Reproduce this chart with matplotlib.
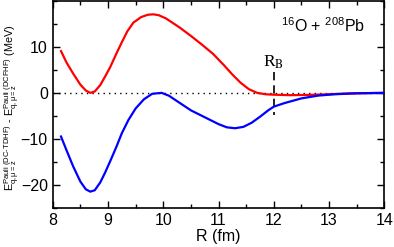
import matplotlib
matplotlib.use("Agg")
import matplotlib.pyplot as plt
from matplotlib.ticker import MultipleLocator
import numpy as np

plt.rcParams['font.family'] = ['Liberation Sans', 'DejaVu Sans']
plt.rcParams['mathtext.fontset'] = 'custom'
plt.rcParams['mathtext.rm'] = 'Liberation Sans'
plt.rcParams['mathtext.it'] = 'Liberation Sans'
plt.rcParams['mathtext.bf'] = 'Liberation Sans:bold'

# Red curve (upper)
r_red = [8.15, 8.25, 8.37, 8.5, 8.6, 8.68, 8.76, 8.86, 8.95, 9.04, 9.15, 9.25, 9.35, 9.46,
         9.6, 9.72, 9.82, 9.92, 10.05, 10.2, 10.3, 10.5, 10.7, 10.9, 11.1, 11.25, 11.4,
         11.55, 11.7, 11.85, 12.0, 12.3, 12.6, 13.0, 13.4, 14.0]
e_red = [9.1, 6.6, 4.2, 1.8, 0.5, 0.0, 0.3, 1.7, 3.6, 5.6, 8.5, 11.0, 13.4, 15.3,
         16.5, 17.0, 17.1, 16.9, 16.2, 15.0, 14.2, 12.4, 10.5, 8.5, 6.0, 4.0, 2.2,
         0.8, 0.0, -0.3, -0.4, -0.5, -0.45, -0.3, -0.1, 0.0]

# Blue curve (lower)
r_blue = [8.15, 8.25, 8.37, 8.5, 8.6, 8.68, 8.76, 8.86, 8.95, 9.05, 9.15, 9.25, 9.37,
          9.5, 9.65, 9.8, 9.97, 10.1, 10.3, 10.5, 10.8, 11.0, 11.15, 11.3, 11.45,
          11.6, 11.75, 11.9, 12.0, 12.2, 12.5, 12.8, 13.1, 13.5, 14.0]
e_blue = [-9.5, -12.5, -16.0, -19.3, -21.0, -21.5, -21.2, -19.5, -17.3, -14.6, -11.8, -8.8, -5.9,
          -3.4, -1.4, -0.2, 0.0, -0.6, -2.2, -3.8, -5.6, -6.8, -7.5, -7.7, -7.4,
          -6.5, -5.2, -3.8, -3.0, -2.2, -1.2, -0.6, -0.3, -0.1, 0.0]

x_ticks = [8, 9, 10, 11, 12, 13, 14]
y_ticks = [-20, -10, 0, 10]
r_barrier = 12.0

fig = plt.figure(figsize=(3.94, 2.47), dpi=100)
ax = fig.add_axes([0.1338, 0.159, 0.8416, 0.837])

ax.axhline(0, color='black', linestyle=(0, (1, 3)), linewidth=1.0, zorder=1)
ax.plot(r_red, e_red, color='#ff0000', linewidth=1.6, zorder=3)
ax.plot(r_blue, e_blue, color='#0000ff', linewidth=1.6, zorder=3)
ax.plot([r_barrier, r_barrier], [4.5, -4.8], color='black', linestyle=(0, (5, 3)), linewidth=1.2, zorder=2)

ax.text(r_barrier, 4.8, r'R$_{\mathrm{B}}$', family='Liberation Serif', fontsize=12.5,
        ha='center', va='bottom', math_fontfamily='stix')
ax.text(13.65, 13.3, r'$^{16}$O + $^{208}$Pb', fontsize=11.5, ha='right', va='baseline')

ax.set_xlim(8, 14)
ax.set_ylim(-25, 20)
ax.set_xticks(x_ticks)
ax.set_yticks(y_ticks)
ax.xaxis.set_minor_locator(MultipleLocator(0.5))
ax.yaxis.set_minor_locator(MultipleLocator(5))
ax.tick_params(which='both', direction='in', top=True, right=True, labelsize=11.5, width=1.0)
ax.tick_params(which='major', length=5)
ax.tick_params(which='minor', length=3)
for s in ax.spines.values():
    s.set_linewidth(1.2)

ax.set_xlabel('R (fm)', fontsize=11.5, labelpad=1)
ylab = (r'$\mathrm{E}^{\mathrm{Pauli\ (DC\text{-}TDHF)}}_{\mathrm{q,\mu=z}}$ - '
        r'$\mathrm{E}^{\mathrm{Pauli\ (DCFHF)}}_{\mathrm{q,\mu=z}}$ (MeV)')
fig.text(0.03, 0.565, ylab, rotation=90, fontsize=7.8, ha='center', va='center')

fig.savefig('out.png', dpi=100)
